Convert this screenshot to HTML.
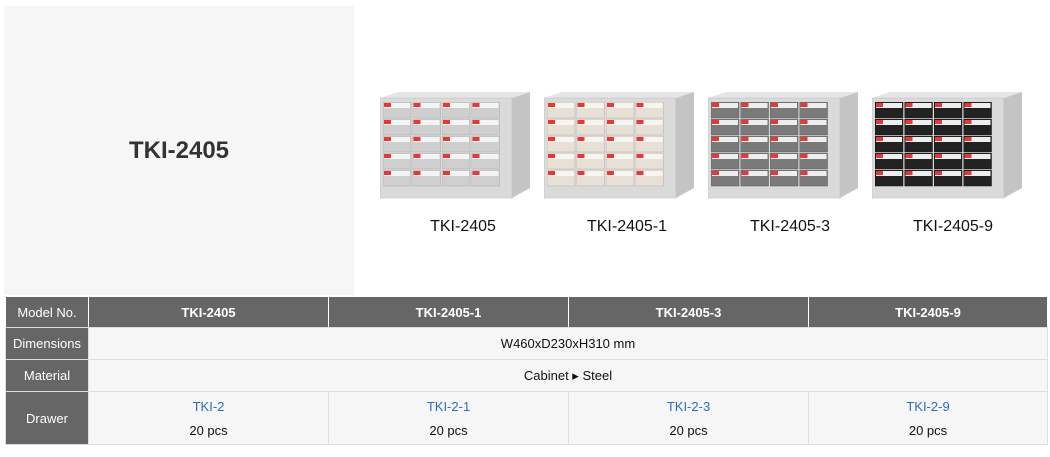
<!DOCTYPE html>
<html><head><meta charset="utf-8"><style>
*{margin:0;padding:0;box-sizing:border-box}
body{width:1050px;height:457px;background:#fff;position:relative;overflow:hidden;font-family:"Liberation Sans",Arial,sans-serif}
.panel{position:absolute;left:4px;top:6px;width:350px;height:289px;background:#f6f6f6}
.title{position:absolute;left:4px;top:137px;width:350px;text-align:center;font-size:24px;font-weight:bold;color:#333}
.cab{position:absolute;top:91px}
.lbl{position:absolute;top:218px;width:160px;text-align:center;font-size:16px;color:#111}
table{position:absolute;left:5px;top:296px;width:1043px;border-collapse:collapse;font-size:13px}
td{border:1px solid #ddd;text-align:center;background:#f6f6f6;color:#111}
td.h{background:#666;color:#fff;width:83px;border-color:#fff #ddd #ddd #ddd}
tr.hd td{background:#666;color:#fff;font-weight:bold;border-color:#fff #fff #ddd #fff}
a{color:#2a6ebb;text-decoration:none}
</style></head><body>
<div class="panel"></div>
<div class="title">TKI-2405</div>

<svg width="0" height="0" style="position:absolute">
<defs>
<pattern id="pA" width="29.5" height="17" patternUnits="userSpaceOnUse" x="3" y="11"><rect x="0" y="0" width="28" height="16" fill="#cfcfcf" stroke="#aaa" stroke-width="0.5"/><rect x="1" y="1" width="26" height="5" fill="#f4f4f4"/><rect x="1" y="1" width="7" height="4" fill="#e53935"/></pattern>
<pattern id="pB" width="29.5" height="17" patternUnits="userSpaceOnUse" x="3" y="11"><rect x="0" y="0" width="28" height="16" fill="#e6e0d6" stroke="#b8b0a6" stroke-width="0.5"/><rect x="1" y="1" width="26" height="5" fill="#f7f5f2"/><rect x="1" y="1" width="7" height="4" fill="#e53935"/></pattern>
<pattern id="pC" width="29.5" height="17" patternUnits="userSpaceOnUse" x="3" y="11"><rect x="0" y="0" width="28" height="16" fill="#7a7a7a" stroke="#555" stroke-width="0.5"/><rect x="1" y="1" width="26" height="5" fill="#eee"/><rect x="1" y="1" width="7" height="4" fill="#e53935"/></pattern>
<pattern id="pD" width="29.5" height="17" patternUnits="userSpaceOnUse" x="3" y="11"><rect x="0" y="0" width="28" height="16" fill="#222" stroke="#111" stroke-width="0.5"/><rect x="1" y="1" width="26" height="5" fill="#eee"/><rect x="1" y="1" width="7" height="4" fill="#e53935"/></pattern>
</defs></svg>

<svg class="cab" style="left:380px" width="152" height="108" viewBox="0 0 152 108"><polygon points="0,7 18,1 150,1 132,7" fill="#e6e6e6"/><polygon points="132,7 150,1 150,97 132,107" fill="#c4c4c4"/><rect x="0" y="7" width="132" height="100" fill="#dadada" stroke="#bbb" stroke-width="0.5"/><rect x="3" y="11" width="118" height="85" fill="url(#pA)"/></svg>
<svg class="cab" style="left:544px" width="152" height="108" viewBox="0 0 152 108"><polygon points="0,7 18,1 150,1 132,7" fill="#e6e6e6"/><polygon points="132,7 150,1 150,97 132,107" fill="#c4c4c4"/><rect x="0" y="7" width="132" height="100" fill="#dadada" stroke="#bbb" stroke-width="0.5"/><rect x="3" y="11" width="118" height="85" fill="url(#pB)"/></svg>
<svg class="cab" style="left:708px" width="152" height="108" viewBox="0 0 152 108"><polygon points="0,7 18,1 150,1 132,7" fill="#e6e6e6"/><polygon points="132,7 150,1 150,97 132,107" fill="#c4c4c4"/><rect x="0" y="7" width="132" height="100" fill="#dadada" stroke="#bbb" stroke-width="0.5"/><rect x="3" y="11" width="118" height="85" fill="url(#pC)"/></svg>
<svg class="cab" style="left:872px" width="152" height="108" viewBox="0 0 152 108"><polygon points="0,7 18,1 150,1 132,7" fill="#e6e6e6"/><polygon points="132,7 150,1 150,97 132,107" fill="#c4c4c4"/><rect x="0" y="7" width="132" height="100" fill="#dadada" stroke="#bbb" stroke-width="0.5"/><rect x="3" y="11" width="118" height="85" fill="url(#pD)"/></svg>

<div class="lbl" style="left:383px">TKI-2405</div>
<div class="lbl" style="left:547px">TKI-2405-1</div>
<div class="lbl" style="left:710px">TKI-2405-3</div>
<div class="lbl" style="left:873px">TKI-2405-9</div>

<table>
<tr class="hd" style="height:31px"><td class="h" style="font-weight:normal">Model No.</td><td style="width:240px">TKI-2405</td><td style="width:240px">TKI-2405-1</td><td style="width:240px">TKI-2405-3</td><td>TKI-2405-9</td></tr>
<tr style="height:32px"><td class="h">Dimensions</td><td colspan="4">W460xD230xH310 mm</td></tr>
<tr style="height:32px"><td class="h">Material</td><td colspan="4">Cabinet &#9656; Steel</td></tr>
<tr style="height:53px"><td class="h">Drawer</td>
<td><a>TKI-2</a><div style="margin-top:9px">20 pcs</div></td>
<td><a>TKI-2-1</a><div style="margin-top:9px">20 pcs</div></td>
<td><a>TKI-2-3</a><div style="margin-top:9px">20 pcs</div></td>
<td><a>TKI-2-9</a><div style="margin-top:9px">20 pcs</div></td></tr>
</table>
</body></html>
